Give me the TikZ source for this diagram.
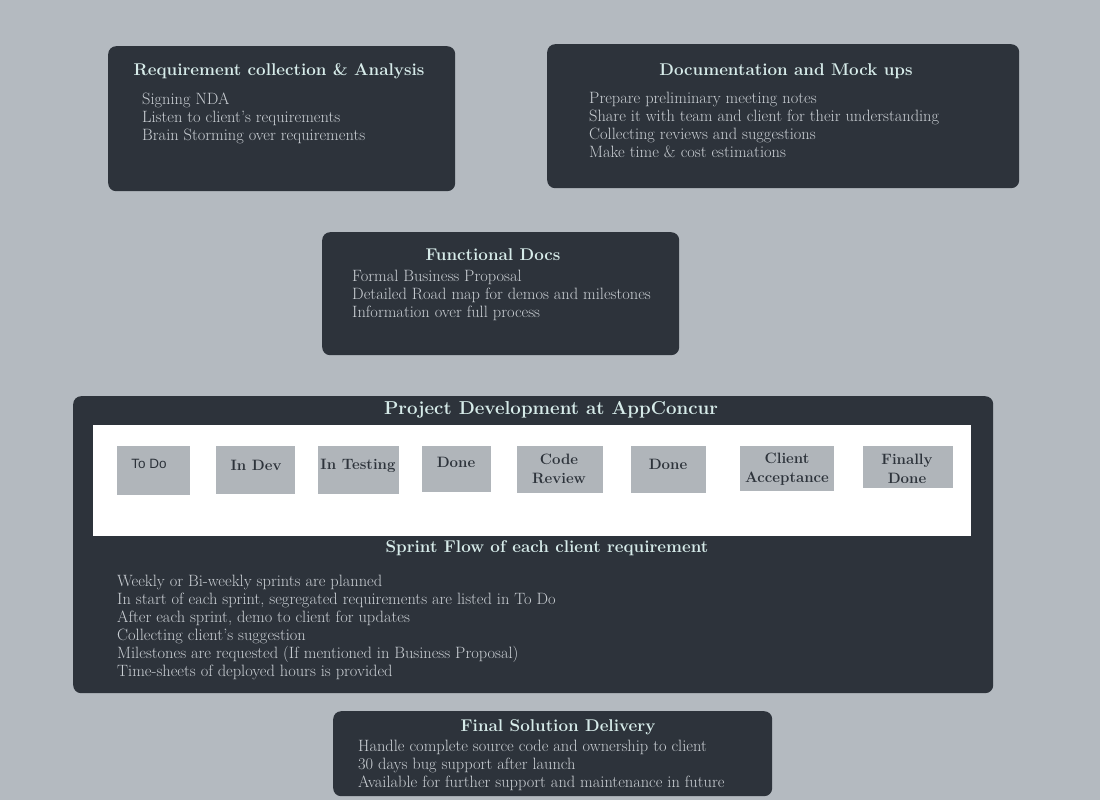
\documentclass[tikz,border=0pt]{standalone}
\usepackage{fontspec}
\newfontfamily\labelsans{Liberation Sans}
\definecolor{pagebg}{HTML}{B4BAC0}
\definecolor{panel}{HTML}{2D333B}
\definecolor{heading}{HTML}{D6EBE9}
\definecolor{itemtext}{HTML}{C9CED3}
\definecolor{stage}{HTML}{B0B5BA}
\begin{document}
\begin{tikzpicture}[x=1pt, y=-1pt,
  panelbox/.style={fill=panel, rounded corners=8pt, anchor=north west, inner sep=0pt},
  panelhead/.style={text=heading, font=\fontsize{17}{20}\selectfont\bfseries, anchor=base},
  panelitems/.style={text=itemtext, font=\fontsize{16.4}{18}\selectfont, align=left, anchor=north west, inner sep=0pt},
  stagebox/.style={fill=stage, inner sep=0pt},
  stagelabel/.style={text=panel, font=\fontsize{15}{19}\selectfont\bfseries, align=center, anchor=north, inner sep=0pt}]
  \useasboundingbox (0,0) rectangle (1100,800);
  \fill[pagebg] (0,0) rectangle (1100,800);

  % requirement collection
  \node[panelbox, minimum width=347, minimum height=145] (req) at (108,46) {};
  \node[panelhead] (reqhead) at (279,76) {Requirement collection \& Analysis};
  \node[panelitems] (reqitems) at (142,93) {Signing NDA\\Listen to client's requirements\\Brain Storming over requirements};

  % documentation and mock ups
  \node[panelbox, minimum width=472, minimum height=144] (doc) at (547,44) {};
  \node[panelhead] (dochead) at (786,75) {Documentation and Mock ups};
  \node[panelitems] (docitems) at (589,92) {Prepare preliminary meeting notes\\Share it with team and client for their understanding\\Collecting reviews and suggestions\\Make time \& cost estimations};

  % functional docs
  \node[panelbox, minimum width=357, minimum height=123] (func) at (322,232) {};
  \node[panelhead] (funchead) at (493,260) {Functional Docs};
  \node[panelitems] (funcitems) at (352,270) {Formal Business Proposal\\Detailed Road map for demos and milestones\\Information over full process};

  % project development
  \node[panelbox, minimum width=920, minimum height=297] (dev) at (73,396) {};
  \node[panelhead, font=\fontsize{18.7}{22}\selectfont\bfseries] (devhead) at (551,414) {Project Development at AppConcur};
  \node[fill=white, inner sep=0pt, anchor=north west, minimum width=878, minimum height=111] (board) at (93,425) {};
  \node[stagebox, minimum width=73, minimum height=49] (todo) at (153.5,470.5) {};
  \node[stagebox, minimum width=79, minimum height=48] (indev) at (255.5,470) {};
  \node[stagebox, minimum width=81, minimum height=48] (intest) at (358.5,470) {};
  \node[stagebox, minimum width=69, minimum height=46] (done) at (456.5,469) {};
  \node[stagebox, minimum width=86, minimum height=47] (review) at (560,469.5) {};
  \node[stagebox, minimum width=75, minimum height=47] (donetwo) at (668.5,469.5) {};
  \node[stagebox, minimum width=94, minimum height=45] (accept) at (787,468.5) {};
  \node[stagebox, minimum width=90, minimum height=42] (final) at (908,467) {};
  \node[stagelabel, font=\labelsans\fontsize{13.5}{16}\selectfont] at (149,459) {To Do};
  \node[stagelabel] at (256,460) {In Dev};
  \node[stagelabel] at (358,459) {In Testing};
  \node[stagelabel] at (456,457) {Done};
  \node[stagelabel] at (559,454) {Code\\Review};
  \node[stagelabel] at (668,459) {Done};
  \node[stagelabel] at (787,453) {Client\\Acceptance};
  \node[stagelabel] at (907,454) {Finally\\Done};
  \node[panelhead] (sprinthead) at (547,552) {Sprint Flow of each client requirement};
  \node[panelitems] (sprintitems) at (117,575) {Weekly or Bi-weekly sprints are planned\\In start of each sprint, segregated requirements are listed in To Do\\After each sprint, demo to client for updates\\Collecting client's suggestion\\Milestones are requested (If mentioned in Business Proposal)\\Time-sheets of deployed hours is provided};

  % final delivery
  \node[panelbox, minimum width=439, minimum height=85] (deliv) at (333,711) {};
  \node[panelhead] (delivhead) at (558,731) {Final Solution Delivery};
  \node[panelitems] (delivitems) at (358,740) {Handle complete source code and ownership to client\\30 days bug support after launch\\Available for further support and maintenance in future};
\end{tikzpicture}
\end{document}
